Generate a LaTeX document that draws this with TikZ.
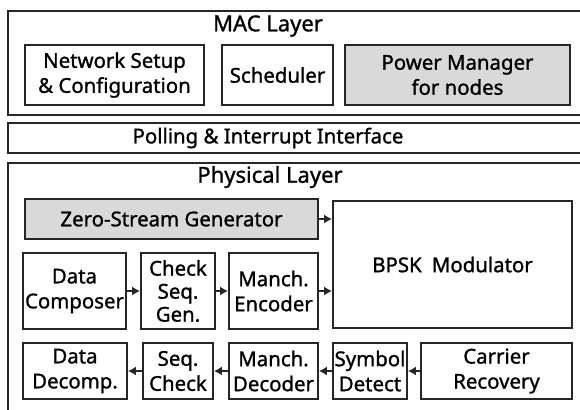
\documentclass[tikz,border=0pt]{standalone}
\usepackage{fontspec}
\setmainfont{Noto Sans}[FakeBold=1.2]
\usetikzlibrary{arrows.meta}

\begin{document}
\begin{tikzpicture}[x=0.5pt, y=-0.5pt,
  every node/.style={draw=black!85, line width=0.9pt, rectangle, align=center, inner sep=0pt, font=\fontsize{10.2}{12.5}\selectfont},
  grey/.style={fill=black!15},
  title/.style={draw=none, font=\fontsize{11}{13}\selectfont},
  arr/.style={-{Latex[length=4pt,width=4.5pt]}, line width=0.9pt, black!85}]
\useasboundingbox (0,0) rectangle (580,409);
\clip (0,0) rectangle (580,409);
% layer frames
\draw[line width=1pt, black!85] (8,11) rectangle (600,115);
\draw[line width=1pt, black!85] (8,123) rectangle (600,153);
\draw[line width=1pt, black!85] (8,163) rectangle (600,430);
% MAC layer
\node[title] (MAC) at (268,26) {MAC Layer};
\node[minimum width=89.5pt, minimum height=30pt] (NetSetup) at (114.5,75) {Network Setup\\\& Configuration};
\node[minimum width=55.5pt, minimum height=30pt] (Sched) at (277.5,75) {Scheduler};
\node[grey, minimum width=112.5pt, minimum height=30pt] (PowMgr) at (457.5,75) {Power Manager\\for nodes};
% interface
\node[title, font=\fontsize{10.2}{12.5}\selectfont] (Poll) at (268,138) {Polling \& Interrupt Interface};
% physical layer
\node[title] (PHY) at (270,177) {Physical Layer};
\node[grey, minimum width=146.5pt, minimum height=20pt] (ZeroGen) at (171.5,219) {Zero-Stream Generator};
\node[minimum width=119.5pt, minimum height=63.5pt] (BPSK) at (452.5,264.5) {BPSK\enspace Modulator};
\node[minimum width=51.5pt, minimum height=38pt] (DataComp) at (74.5,291) {Data\\Composer};
\node[minimum width=37pt, minimum height=38pt, font=\fontsize{10.2}{11.5}\selectfont] (ChkGen) at (178,291) {Check\\Seq.\\Gen.};
\node[minimum width=44.5pt, minimum height=38pt] (ManEnc) at (273.5,291) {Manch.\\Encoder};
\node[minimum width=52pt, minimum height=28pt] (DataDec) at (75,371) {Data\\Decomp.};
\node[minimum width=35pt, minimum height=28pt] (SeqChk) at (178,371) {Seq.\\Check};
\node[minimum width=44.5pt, minimum height=28pt] (ManDec) at (273.5,371) {Manch.\\Decoder};
\node[minimum width=37pt, minimum height=28pt] (SymDet) at (370,371) {Symbol\\Detect};
\node[minimum width=75.5pt, minimum height=28pt] (CarRec) at (496.5,371) {Carrier\\Recovery};
% transmit path
\draw[arr] (ZeroGen.east) -- (ZeroGen.east -| BPSK.west);
\draw[arr] (DataComp) -- (ChkGen);
\draw[arr] (ChkGen) -- (ManEnc);
\draw[arr] (ManEnc.east) -- (ManEnc.east -| BPSK.west);
% receive path
\draw[arr] (CarRec) -- (SymDet);
\draw[arr] (SymDet) -- (ManDec);
\draw[arr] (ManDec) -- (SeqChk);
\draw[arr] (SeqChk) -- (DataDec);
\end{tikzpicture}
\end{document}
